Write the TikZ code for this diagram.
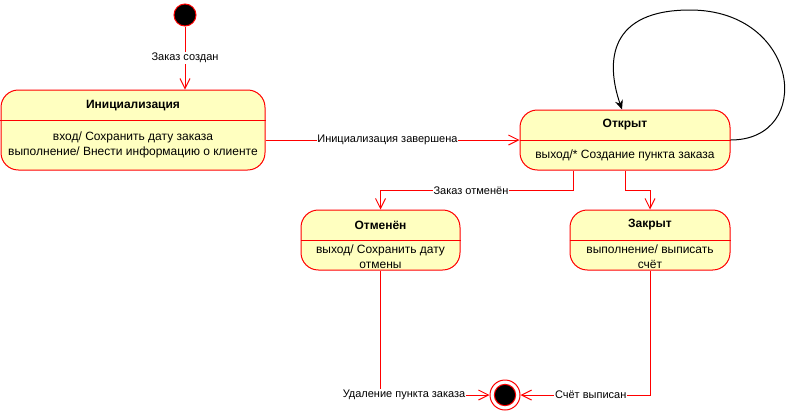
\documentclass[tikz,border=0pt]{standalone}
\usepackage{fontspec}
\setmainfont{Liberation Sans}
\usetikzlibrary{positioning,arrows.meta}
\definecolor{statefill}{RGB}{255,255,192}

\begin{document}
\begin{tikzpicture}[x=0.75pt,y=-0.75pt,line width=0.75pt,
    state/.style={draw=red,fill=statefill,rounded corners=13pt,inner sep=0pt},
    title/.style={font=\fontsize{9}{11}\selectfont\bfseries},
    body/.style={font=\fontsize{9}{11}\selectfont,align=center},
    lbl/.style={font=\fontsize{8.25}{10}\selectfont,fill=white,inner sep=0.5pt},
    trans/.style={draw=red,-{Straight Barb[length=7.5pt,width=7.5pt]}}]
  \useasboundingbox (0,0) rectangle (793,411);
  % states
  \node[circle,draw=red,fill=black,minimum size=16.5pt,inner sep=0pt] (start) at (185,15) {};
  \node[state,minimum width=198pt,minimum height=60pt] (init) at (133,130) {};
  \node[state,minimum width=157.5pt,minimum height=45pt] (open) at (625,140) {};
  \node[state,minimum width=119.25pt,minimum height=45pt] (canc) at (380.5,240) {};
  \node[state,minimum width=120pt,minimum height=45pt] (closed) at (650,240) {};
  \node[circle,draw=red,fill=white,minimum size=22.5pt,inner sep=0pt] (end) at (505,395) {};
  \node[circle,draw=red,fill=black,minimum size=16pt,inner sep=0pt] (endin) at (end) {};
  % dividers
  \draw[red] (init.west |- 0,120) -- (init.east |- 0,120);
  \draw[red] (open.west) -- (open.east);
  \draw[red] (canc.west |- 0,240.5) -- (canc.east |- 0,240.5);
  \draw[red] (closed.west) -- (closed.east);
  % texts
  \node[title] (initT) at (133,106) {Инициализация};
  \node[body] (initB) at (133,145) {вход/ Сохранить дату заказа\\выполнение/ Внести информацию о клиенте};
  \node[title] (openT) at (625,125) {Открыт};
  \node[body] (openB) at (625,155) {выход/* Создание пункта заказа};
  \node[title] (cancT) at (380.5,225) {Отменён};
  \node[body] (cancB) at (380.5,257) {выход/ Сохранить дату\\отмены};
  \node[title] (closedT) at (650,225) {Закрыт};
  \node[body] (closedB) at (650,257) {выполнение/ выписать\\счёт};
  % transitions
  \draw[trans] (start) -- node[lbl] {Заказ создан} (start |- init.north);
  \draw[trans] (init.east |- open.west) -- node[lbl,pos=0.48] {Инициализация завершена} (open.west);
  \draw[trans] ([xshift=-39pt]open.south) -- ++(0,20) -| node[lbl,pos=0.265] {Заказ отменён} (canc.north);
  \draw[trans] (open.south) -- ++(0,20) -| (closed.north);
  \draw[trans] (canc.south) |- node[lbl,pos=0.608] {Удаление пункта заказа} (end.west);
  \draw[trans] (closed.south) |- node[lbl,pos=0.729] {Счёт выписан} (end.east);
  \draw[-{Stealth[length=7pt,width=6pt]},black] (open.east) .. controls (815,140) and (800,10) .. (690,10)
    .. controls (610,10) and (605,60) .. ([xshift=-2.25pt]open.north);
\end{tikzpicture}
\end{document}
